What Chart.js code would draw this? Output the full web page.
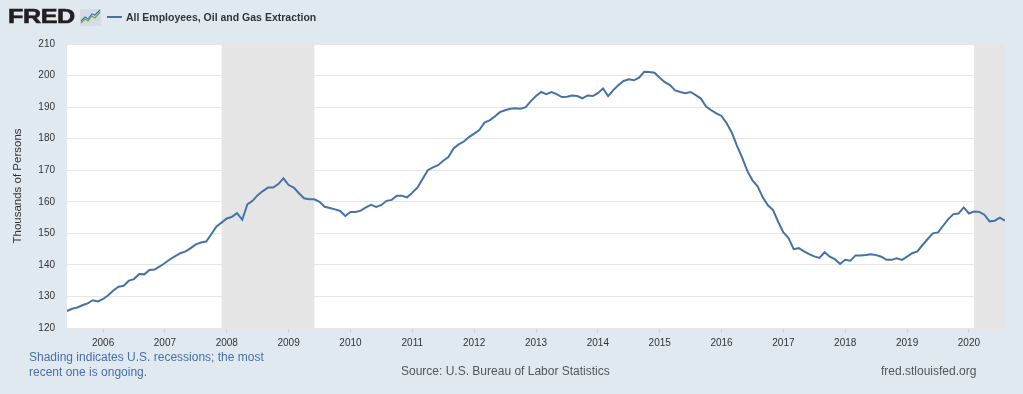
<!DOCTYPE html>
<html>
<head>
<meta charset="utf-8">
<script src="https://cdn.jsdelivr.net/npm/chart.js@4.4.0/dist/chart.umd.min.js"></script>
<style>
html,body{margin:0;padding:0;background:#e1e9f0;width:1023px;height:394px;overflow:hidden;font-family:"Liberation Sans",Arial,Helvetica,sans-serif;}
#wrap{position:absolute;left:0;top:0;width:1023px;height:394px;}
#logo{position:absolute;left:8px;top:4px;font-weight:bold;font-size:21px;line-height:24px;color:#231f20;transform:scaleX(1.2);transform-origin:0 0;-webkit-text-stroke:0.6px #231f20;letter-spacing:-0.4px;}
#icon{position:absolute;left:80px;top:9px;}
#legline{position:absolute;left:107px;top:16px;width:15px;height:2px;background:#4572a7;}
#legtext{position:absolute;left:126px;top:10px;font-size:10.5px;line-height:14px;font-weight:bold;color:#333;}
.foot{position:absolute;font-size:12px;line-height:15.4px;}
#f1{left:29px;top:350px;color:#4a6fa5;}
#f2{left:401px;top:364px;color:#555;}
#f3{left:881px;top:364px;color:#555;}
</style>
</head>
<body>
<div id="wrap"><canvas id="c" width="1023" height="394"></canvas></div>
<div id="logo">FRED</div>
<svg id="icon" width="21" height="17" viewBox="0 0 21 17">
  <rect x="0" y="0" width="21" height="17" fill="#d5dbe2"/>
  <polyline points="1,14 5,10 8,12 12,7 15,9 20,3" fill="none" stroke="#6aa84f" stroke-width="1.2"/>
  <polyline points="1,12 5,8 8,10 12,5 15,6 20,1" fill="none" stroke="#4572a7" stroke-width="1.2"/>
</svg>
<div id="legline"></div>
<div id="legtext">All Employees, Oil and Gas Extraction</div>
<div class="foot" id="f1">Shading indicates U.S. recessions; the most<br>recent one is ongoing.</div>
<div class="foot" id="f2">Source: U.S. Bureau of Labor Statistics</div>
<div class="foot" id="f3">fred.stlouisfed.org</div>
<script>
// ---- Data (thousands of persons, monthly) ----
const startYear = 2005;
const startMonth = 6; // series starts June 2005
const v2005 = [125.4,126.1,126.5,127.2,127.8,128.8,128.4];
const v2006 = [129.2,130.4,131.9,133.1,133.4,135.0,135.5,137.1,137.0,138.4,138.5,139.5];
const v2007 = [140.6,141.8,142.8,143.7,144.3,145.3,146.5,147.1,147.4,149.7,152.2,153.4];
const v2008 = [154.7,155.2,156.4,154.3,159.2,160.3,162.1,163.4,164.5,164.5,165.6,167.4];
const v2009 = [165.3,164.5,162.7,161.1,160.8,160.8,160.0,158.4,158.0,157.6,157.1,155.5];
const v2010 = [156.8,156.8,157.2,158.2,159.0,158.4,159.0,160.3,160.6,161.9,161.9,161.4];
const v2011 = [162.9,164.5,167.2,170.0,170.9,171.6,173.0,174.2,176.9,178.2,179.1,180.5];
const v2012 = [181.6,182.7,185.1,185.8,187.0,188.4,189.0,189.5,189.6,189.5,190.0,191.9];
const v2013 = [193.5,194.8,194.1,194.8,194.1,193.2,193.3,193.7,193.5,192.8,193.7,193.5];
const v2014 = [194.4,195.9,193.5,195.4,197.0,198.3,198.8,198.5,199.3,201.2,201.1,200.9];
const v2015 = [199.3,197.9,197.0,195.3,194.8,194.4,194.8,193.8,192.7,190.2,189.0,188.0];
const v2016 = [187.2,184.9,181.9,177.7,174.0,169.8,166.8,164.9,161.4,158.9,157.4,153.6];
const v2017 = [150.3,148.5,145.0,145.3,144.3,143.4,142.7,142.2,144.0,142.6,141.8,140.3];
const v2018 = [141.6,141.3,143.0,143.0,143.1,143.4,143.1,142.6,141.6,141.6,142.1,141.6];
const v2019 = [142.6,143.7,144.3,146.3,148.2,150.0,150.3,152.4,154.5,156.1,156.3,158.2];
const v2020 = [156.3,156.9,156.8,155.9,153.8,154.0,155.0,154.0];
const xTickYears = [2006,2007,2008,2009,2010,2011,2012,2013,2014,2015,2016,2017,2018,2019,2020];
const yTicks = [120,130,140,150,160,170,180,190,200,210];
const recessionStarts = ['2007-12','2020-02'];
const recessionEnds = ['2009-06','2020-08'];
const seriesName = 'All Employees, Oil and Gas Extraction';

const values = [].concat(v2005,v2006,v2007,v2008,v2009,v2010,v2011,v2012,v2013,v2014,v2015,v2016,v2017,v2018,v2019,v2020);
const points = values.map((v,i)=>({x: startYear + (startMonth-1+i)/12, y: v}));
const ym = s => { const [y,m] = s.split('-').map(Number); return y + (m-1)/12; };
const xMin = points[0].x, xMax = points[points.length-1].x;

const bgPlugin = {
  id:'bgAndRecessions',
  beforeDraw(chart){
    const {ctx, chartArea:a} = chart;
    ctx.save(); ctx.fillStyle = '#ffffff';
    ctx.fillRect(a.left, a.top, a.right-a.left, a.bottom-a.top);
    ctx.restore();
  },
  beforeDatasetsDraw(chart){
    const {ctx, chartArea:a, scales:{x}} = chart;
    ctx.save(); ctx.fillStyle = '#e5e5e5';
    recessionStarts.forEach((s,i)=>{
      const x1 = Math.max(a.left, x.getPixelForValue(ym(s)));
      const x2 = Math.min(a.right, x.getPixelForValue(ym(recessionEnds[i])));
      ctx.fillRect(x1, a.top, x2-x1, a.bottom-a.top);
    });
    ctx.restore();
  }
};

new Chart(document.getElementById('c'), {
  type:'line',
  data:{datasets:[{label:seriesName, data:points, borderColor:'#4572a7', borderWidth:2, pointRadius:0, tension:0, fill:false}]},
  options:{
    responsive:false, animation:false, devicePixelRatio:1,
    layout:{padding:{left:0, top:44, right:18, bottom:36}},
    plugins:{legend:{display:false}, tooltip:{enabled:false}},
    scales:{
      x:{type:'linear', min:xMin, max:xMax,
        afterBuildTicks(s){ s.ticks = xTickYears.map(v=>({value:v})); },
        afterFit(s){ s.height = 30; },
        ticks:{callback:v=>String(v), font:{family:'"Liberation Sans", Arial, sans-serif', size:10}, color:'#333', padding:4, maxRotation:0, autoSkip:false},
        grid:{drawOnChartArea:false, drawTicks:true, tickLength:5, color:'#c8d5e2'},
        border:{display:false}
      },
      y:{type:'linear', min:120, max:210,
        afterBuildTicks(s){ s.ticks = yTicks.map(v=>({value:v})); },
        afterFit(s){ s.width = 67; },
        ticks:{font:{family:'"Liberation Sans", Arial, sans-serif', size:10}, color:'#333', padding:12},
        grid:{color:'#e6e6e6', drawTicks:false},
        border:{display:false},
        title:{display:true, text:'Thousands of Persons', font:{family:'"Liberation Sans", Arial, sans-serif', size:11.5}, color:'#333', padding:{top:11, bottom:0}}
      }
    }
  },
  plugins:[bgPlugin]
});
</script>
</body>
</html>
